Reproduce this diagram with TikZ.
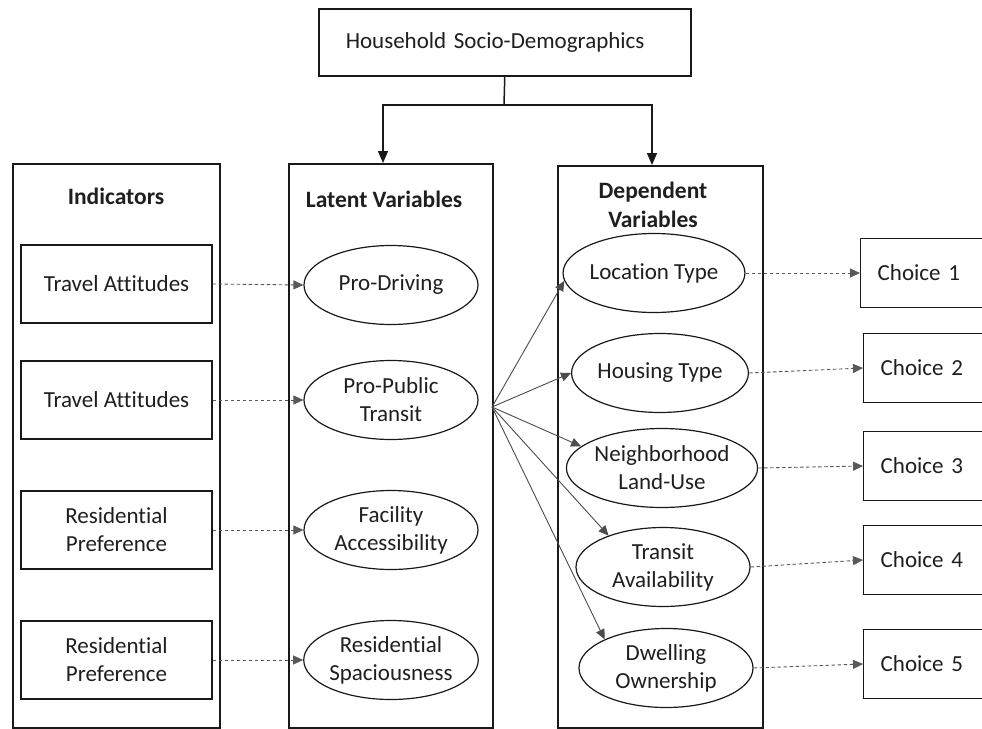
\documentclass[tikz,border=0pt]{standalone}
\usepackage{fontspec}
\setmainfont{Carlito}[Ligatures={NoCommon}]
\usetikzlibrary{arrows.meta,shapes.geometric}
\begin{document}
\begin{tikzpicture}[x=1pt,y=-1pt,
  every node/.style={font=\fontsize{23}{28}\selectfont, text=black!88},
  box/.style={draw=black!90, line width=1.4pt, inner sep=0pt, minimum width=191pt, minimum height=78pt, align=center},
  panel/.style={draw=black!90, line width=1.5pt, inner sep=0pt, anchor=north west},
  oval/.style={ellipse, draw=black!90, line width=1.2pt, inner sep=0pt, minimum width=174pt, minimum height=79pt, align=center},
  choicebox/.style={draw=black!90, line width=1.4pt, anchor=west, minimum height=69pt, text width=110pt, align=left, inner xsep=17pt},
  title/.style={font=\fontsize{23.5}{29}\selectfont\bfseries, align=center},
  tip/.style={-{Triangle[length=10pt,width=9pt]}},
  dasharrow/.style={tip, draw=black!65, line width=0.9pt, dash pattern=on 3.5pt off 2.5pt},
  solidarrow/.style={tip, draw=black!70, line width=0.9pt},
  toparrow/.style={-{Triangle[length=12pt,width=10pt]}, draw=black!90, line width=1.5pt}
]
\useasboundingbox (0,0) rectangle (982,728);
\clip (0,0) rectangle (982,728);
\fill[white] (0,0) rectangle (982,728);

% top box
\node[draw=black!90, line width=1.5pt, inner sep=0pt, minimum width=372pt, minimum height=67pt, text width=318pt, inner xsep=27pt, align=left, anchor=north west] (top) at (318,8) {Household Socio-Demographics};

% panels
\node[panel, minimum width=207pt, minimum height=564pt] (ind) at (12,163) {};
\node[panel, minimum width=204pt, minimum height=564pt] (lat) at (288,163) {};
\node[panel, minimum width=205pt, minimum height=562pt] (dep) at (557,165) {};

% titles
\node[title] (tind) at (116,196) {Indicators};
\node[title] (tlat) at (384,199) {Latent Variables};
\node[title] (tdep) at (653,205) {Dependent\\Variables};

% top connectors
\coordinate (jn) at (504,105);
\coordinate (latTop) at (383,163);
\coordinate (depTop) at (652,165);
\draw[draw=black!90, line width=1.5pt] (top.south) -- (jn);
\draw[toparrow] (jn) -| (latTop);
\draw[toparrow] (jn) -| (depTop);

% indicators
\node[box] (i1) at (116.5,284) {Travel Attitudes};
\node[box] (i2) at (116.5,400) {Travel Attitudes};
\node[box] (i3) at (116.5,530) {Residential\\Preference};
\node[box] (i4) at (116.5,660) {Residential\\Preference};

% latent
\node[oval] (l1) at (391,285) {Pro-Driving};
\node[oval] (l2) at (391,400) {Pro-Public\\Transit};
\node[oval] (l3) at (391,530) {Facility\\Accessibility};
\node[oval] (l4) at (391,660) {Residential\\Spaciousness};

% dependent
\node[oval] (d1) at (654,273) {Location Type};
\node[oval] (d2) at (660,373) {Housing Type};
\node[oval] (d3) at (662,468) {Neighborhood\\Land-Use};
\node[oval] (d4) at (663,567) {Transit\\Availability};
\node[oval] (d5) at (666,668) {Dwelling\\Ownership};

% choices
\node[choicebox] (c1) at (860,273) {Choice 1};
\node[choicebox] (c2) at (863,368) {Choice 2};
\node[choicebox] (c3) at (863,466) {Choice 3};
\node[choicebox] (c4) at (863,560) {Choice 4};
\node[choicebox] (c5) at (863,664) {Choice 5};

% dashed arrows indicators -> latent
\draw[dasharrow] (i1.east) -- (l1.west);
\draw[dasharrow] (i2.east) -- (l2.west);
\draw[dasharrow] (i3.east) -- (l3.west);
\draw[dasharrow] (i4.east) -- (l4.west);

% fan arrows
\coordinate (fan) at (492,407);
\draw[solidarrow] (fan) -- (d1.185);
\draw[solidarrow] (fan) -- (d2.west);
\draw[solidarrow] (fan) -- (d3.165);
\draw[solidarrow] (fan) -- (d4.150);
\draw[solidarrow] (fan) -- (d5.155);

% dashed arrows dependent -> choices
\draw[dasharrow] (d1.east) -- (c1.west);
\draw[dasharrow] (d2.east) -- (c2.west);
\draw[dasharrow] (d3.east) -- (c3.west);
\draw[dasharrow] (d4.east) -- (c4.west);
\draw[dasharrow] (d5.east) -- (c5.west);
\end{tikzpicture}
\end{document}
